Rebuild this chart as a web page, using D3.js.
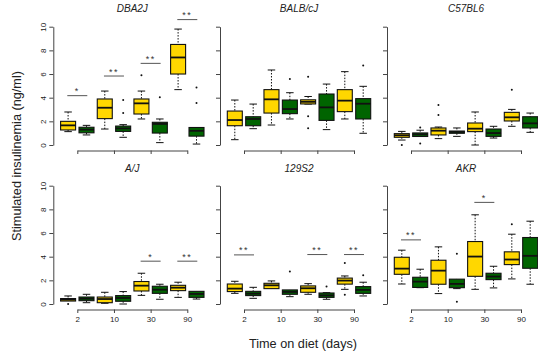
<!DOCTYPE html>
<html>
<head>
<meta charset="utf-8">
<script src="https://cdn.jsdelivr.net/npm/d3@7"></script>
<style>
  html, body { margin: 0; padding: 0; background: #fff; }
  svg { display: block; font-family: "Liberation Sans", Arial, sans-serif; }
</style>
</head>
<body>
<svg id="chart" width="538" height="351"></svg>
<script>
// Strains (one panel each), time points and diet groups
const strains = ["DBA2J", "BALB/cJ", "C57BL6", "A/J", "129S2", "AKR"];
const days = [2, 10, 30, 90];
const diets = ["chow", "hfd"];
const yTicks = [0, 2, 4, 6, 8, 10];

// Box statistics per strain, ordered [chow 2, hfd 2, chow 10, hfd 10, chow 30, hfd 30, chow 90, hfd 90]
const whiskerLow = [
  [1.13, 0.85, 1.35, 0.65, 2.2, 0.2, 4.68, 0.08],
  [0.45, 1.38, 1.69, 2.2, 3.46, 1.3, 2.2, 0.99],
  [0.42, 0.72, 0.54, 0.73, 0.0, 0.59, 1.58, 1.07],
  [0.25, 0.11, 0.06, 0.0, 0.73, 0.4, 0.56, 0.42],
  [0.9, 0.48, 1.3, 0.62, 0.82, 0.4, 1.24, 0.68],
  [1.69, 1.38, 0.88, 1.3, 1.24, 1.36, 2.12, 1.67]
];
const q1 = [
  [1.27, 1.03, 2.23, 1.15, 2.62, 1.01, 6.0, 0.75],
  [1.63, 1.63, 2.7, 2.65, 3.47, 2.08, 2.82, 2.2],
  [0.65, 0.72, 0.85, 0.99, 1.13, 0.73, 2.03, 1.44],
  [0.25, 0.28, 0.11, 0.23, 1.1, 0.9, 1.13, 0.56],
  [1.05, 0.71, 1.3, 0.82, 0.99, 0.56, 1.68, 0.9],
  [2.51, 1.4, 1.67, 1.38, 2.34, 2.06, 3.33, 3.02]
];
const median = [
  [1.66, 1.3, 3.15, 1.4, 3.52, 1.78, 7.4, 1.2],
  [2.11, 2.2, 3.86, 3.04, 3.65, 3.18, 3.75, 3.49],
  [0.82, 0.9, 1.21, 1.1, 1.38, 1.01, 2.34, 1.83],
  [0.37, 0.45, 0.42, 0.51, 1.55, 1.21, 1.38, 0.85],
  [1.3, 0.88, 1.58, 1.02, 1.33, 0.73, 1.98, 1.19],
  [2.99, 1.89, 2.82, 1.7, 4.01, 2.32, 3.76, 4.07]
];
const q3 = [
  [2.0, 1.5, 3.89, 1.6, 3.89, 1.92, 8.5, 1.48],
  [2.87, 2.39, 4.68, 3.8, 3.82, 4.31, 4.68, 3.92],
  [0.96, 1.02, 1.44, 1.18, 1.86, 1.35, 2.76, 2.39],
  [0.46, 0.59, 0.59, 0.71, 1.9, 1.5, 1.58, 1.07],
  [1.69, 1.07, 1.75, 1.19, 1.53, 0.93, 2.19, 1.47],
  [3.95, 2.26, 3.7, 2.1, 5.28, 2.6, 4.41, 5.62]
];
const whiskerHigh = [
  [2.79, 1.66, 4.56, 1.72, 4.56, 2.2, 9.8, 1.48],
  [3.8, 3.46, 6.34, 4.42, 4.1, 5.15, 6.2, 4.96],
  [1.15, 1.25, 1.52, 1.44, 2.79, 1.58, 3.01, 2.7],
  [0.68, 0.82, 0.99, 1.05, 2.6, 1.67, 1.84, 1.07],
  [1.92, 1.41, 1.95, 1.19, 1.72, 0.96, 2.37, 1.84],
  [4.55, 2.94, 4.83, 2.1, 7.54, 3.19, 5.9, 7.0]
];
const outliers = [
  [[], [], [], [3.8, 2.7], [5.9], [4.03], [], [4.85, 3.55]],
  [[], [], [], [5.58], [5.77, 2.44, 1.42], [], [], [6.73]],
  [[0.0], [1.47, 0.12], [3.38, 2.54], [], [], [], [4.68], []],
  [[0.0], [], [], [], [], [], [], []],
  [[], [], [], [2.74], [], [1.47], [3.46, 0.79], [2.43]],
  [[], [], [], [4.25, 0.2], [], [], [6.75], []]
];
// Significance marks: strain index, day, label, height
const sigStrain = [0, 0, 0, 0, 3, 3, 4, 4, 4, 5, 5];
const sigDay = [2, 10, 30, 90, 30, 90, 2, 30, 90, 2, 30];
const sigLabel = ["*", "**", "**", "**", "*", "**", "**", "**", "**", "**", "*"];
const sigHeight = [4.17, 5.83, 6.9, 10.6, 3.62, 3.62, 4.15, 4.18, 4.18, 5.42, 8.59];

const dietColor = d3.scaleOrdinal().domain(diets).range(["#FFD700", "#006400"]);

const svg = d3.select("#chart");

// Panel geometry
const axisX = [53.3, 220, 387];
const zeroY = [145, 304];
const plotH = 118.3;
const boxW = 15;
const capW = 7.5;

strains.forEach((name, si) => {
  const col = si % 3, row = Math.floor(si / 3);
  const ax = axisX[col];
  const y = d3.scaleLinear().domain([0, 10]).range([zeroY[row], zeroY[row] - plotH]);
  const x = d3.scalePoint().domain(days).range([ax + 24, ax + 134]);
  const off = d3.scalePoint().domain(diets).range([-9.2, 9.2]);
  const g = svg.append("g");

  // y axis
  const yAxis = d3.axisLeft(y).tickValues(yTicks).tickSize(4).tickSizeOuter(0)
    .tickFormat(col === 0 ? d3.format("d") : "");
  const ya = g.append("g").attr("transform", `translate(${ax},0)`).call(yAxis);
  ya.select(".domain").attr("stroke", "#444");
  ya.selectAll(".tick line").attr("stroke", "#444");
  ya.selectAll(".tick text")
    .attr("transform", "rotate(-90)")
    .attr("x", 0).attr("y", -7.5).attr("dy", 0)
    .attr("text-anchor", "middle")
    .attr("font-size", 8).attr("fill", "#222")
    .attr("font-family", "Liberation Sans, Arial, sans-serif");

  // x axis
  const xAxis = d3.axisBottom(x).tickSize(3.5).tickSizeOuter(0)
    .tickFormat(row === 1 ? d => d : "");
  const xa = g.append("g").attr("transform", `translate(0,${zeroY[row] + 5.5})`).call(xAxis);
  xa.select(".domain").attr("stroke", "#444");
  xa.selectAll(".tick line").attr("stroke", "#444");
  xa.selectAll(".tick text").attr("y", 6.5).attr("dy", "0.71em")
    .attr("font-size", 8).attr("fill", "#222")
    .attr("font-family", "Liberation Sans, Arial, sans-serif");

  // panel title
  g.append("text")
    .attr("x", ax + 79).attr("y", row === 0 ? 12 : 171.5)
    .attr("text-anchor", "middle")
    .attr("font-size", 10).attr("font-style", "italic").attr("fill", "#222")
    .text(name);

  // boxes
  const items = [];
  days.forEach((d, di) => diets.forEach((dt, ki) => {
    const k = di * 2 + ki;
    items.push({
      cx: x(d) + off(dt), diet: dt,
      lo: whiskerLow[si][k], a: q1[si][k], m: median[si][k],
      b: q3[si][k], hi: whiskerHigh[si][k], out: outliers[si][k]
    });
  }));

  const bx = g.selectAll("g.box").data(items).join("g").attr("class", "box");
  // dotted whiskers
  bx.append("line")
    .attr("x1", d => d.cx).attr("x2", d => d.cx)
    .attr("y1", d => y(d.hi)).attr("y2", d => y(d.b))
    .attr("stroke", "#111").attr("stroke-width", 1).attr("stroke-dasharray", "1.5,1.5");
  bx.append("line")
    .attr("x1", d => d.cx).attr("x2", d => d.cx)
    .attr("y1", d => y(d.a)).attr("y2", d => y(d.lo))
    .attr("stroke", "#111").attr("stroke-width", 1).attr("stroke-dasharray", "1.5,1.5");
  // caps
  bx.filter(d => d.hi > d.b).append("line")
    .attr("x1", d => d.cx - capW / 2).attr("x2", d => d.cx + capW / 2)
    .attr("y1", d => y(d.hi)).attr("y2", d => y(d.hi))
    .attr("stroke", "#111").attr("stroke-width", 1);
  bx.filter(d => d.lo < d.a).append("line")
    .attr("x1", d => d.cx - capW / 2).attr("x2", d => d.cx + capW / 2)
    .attr("y1", d => y(d.lo)).attr("y2", d => y(d.lo))
    .attr("stroke", "#111").attr("stroke-width", 1);
  // box body
  bx.append("rect")
    .attr("x", d => d.cx - boxW / 2).attr("width", boxW)
    .attr("y", d => y(d.b)).attr("height", d => Math.max(1, y(d.a) - y(d.b)))
    .attr("fill", d => dietColor(d.diet))
    .attr("stroke", "#111").attr("stroke-width", 1.1);
  // median
  bx.append("line")
    .attr("x1", d => d.cx - boxW / 2).attr("x2", d => d.cx + boxW / 2)
    .attr("y1", d => y(d.m)).attr("y2", d => y(d.m))
    .attr("stroke", "#111").attr("stroke-width", 1.8);
  // outliers
  bx.selectAll("circle").data(d => d.out.map(v => ({ cx: d.cx, v }))).join("circle")
    .attr("cx", d => d.cx).attr("cy", d => y(d.v)).attr("r", 1).attr("fill", "#111");

  // significance bars
  sigStrain.forEach((s, i) => {
    if (s !== si) return;
    const cx = x(sigDay[i]);
    const yy = y(sigHeight[i]);
    g.append("line")
      .attr("x1", cx - 10).attr("x2", cx + 10).attr("y1", yy).attr("y2", yy)
      .attr("stroke", "#555").attr("stroke-width", 1);
    g.append("text")
      .attr("x", cx).attr("y", yy - 1.5).attr("text-anchor", "middle")
      .attr("font-size", 9).attr("fill", "#333").attr("letter-spacing", 1.5)
      .text(sigLabel[i]);
  });
});

// shared axis titles
svg.append("text")
  .attr("transform", "translate(21,156) rotate(-90)")
  .attr("text-anchor", "middle").attr("font-size", 12.7).attr("fill", "#222")
  .text("Stimulated insulinemia (ng/ml)");
svg.append("text")
  .attr("x", 303).attr("y", 347.5)
  .attr("text-anchor", "middle").attr("font-size", 12.7).attr("fill", "#222")
  .text("Time on diet (days)");
</script>
</body>
</html>
